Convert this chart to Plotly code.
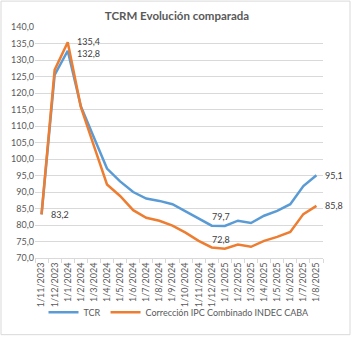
import plotly.graph_objects as go

# Monthly categories (first day of each month)
months = ["1/11/2023", "1/12/2023", "1/1/2024", "1/2/2024", "1/3/2024", "1/4/2024",
          "1/5/2024", "1/6/2024", "1/7/2024", "1/8/2024", "1/9/2024", "1/10/2024",
          "1/11/2024", "1/12/2024", "1/1/2025", "1/2/2025", "1/3/2025", "1/4/2025",
          "1/5/2025", "1/6/2025", "1/7/2025", "1/8/2025"]

tcr = [83.2, 125.5, 132.8, 116.0, 106.5, 97.1, 93.2, 90.0, 88.0, 87.3, 86.3, 84.2,
       82.0, 79.8, 79.7, 81.3, 80.6, 82.8, 84.3, 86.3, 91.8, 95.1]
ipc = [83.2, 127.0, 135.4, 115.8, 104.0, 92.3, 88.8, 84.5, 82.2, 81.3, 79.8, 77.7,
       75.2, 73.2, 72.8, 74.1, 73.4, 75.2, 76.4, 77.9, 83.3, 85.8]

series_names = ["TCR", "Corrección IPC Combinado INDEC CABA"]
blue = "#5B9BD5"
orange = "#ED7D31"
grey_text = "#595959"
FONT = "Lato"

fig = go.Figure()
fig.add_trace(go.Scatter(x=months, y=tcr, mode="lines", name=series_names[0],
                         line=dict(color=blue, width=2.5)))
fig.add_trace(go.Scatter(x=months, y=ipc, mode="lines", name=series_names[1],
                         line=dict(color=orange, width=2.5)))


def fmt(v):
    return f"{v:.1f}".replace(".", ",")


def label(i, series, pos):
    v = series[i]
    if pos == "right":
        return dict(x=months[i], y=v, text=fmt(v), showarrow=False,
                    xanchor="left", yanchor="middle", xshift=7)
    return dict(x=months[i], y=v, text=fmt(v), showarrow=False,
                xanchor="center", yanchor="bottom", yshift=2, xshift=-4)


last = len(months) - 1
peak = ipc.index(max(ipc))
low_t = tcr.index(min(tcr))
low_i = ipc.index(min(ipc))
anns = [
    label(0, ipc, "right"),
    {**label(peak, ipc, "right"), "yshift": 1},
    {**label(peak, tcr, "right"), "yshift": -3},
    label(low_t, tcr, "top"),
    label(low_i, ipc, "top"),
    label(last, tcr, "right"),
    label(last, ipc, "right"),
]
for a in anns:
    a["font"] = dict(family=FONT, size=9, color="#404040")
    fig.add_annotation(**a)

fig.update_layout(
    width=354, height=338,
    margin=dict(l=35, r=31, t=27, b=79),
    paper_bgcolor="white", plot_bgcolor="white",
    separators=",.",
    font=dict(family=FONT, size=9, color=grey_text),
    title=dict(text="<b>TCRM Evolución comparada</b>", x=0.5, xanchor="center",
               y=1 - 16 / 338, yanchor="middle",
               font=dict(family=FONT, size=11.5, color=grey_text)),
    showlegend=True,
    legend=dict(orientation="h", x=0.5, xanchor="center", y=-0.23, yanchor="middle",
                font=dict(family=FONT, size=9, color=grey_text),
                itemwidth=30, bgcolor="rgba(0,0,0,0)"),
    shapes=[dict(type="rect", xref="paper", yref="paper",
                 x0=-34 / 288, x1=(350 - 35) / 288,
                 y0=-(336 - 259) / 232, y1=1 + 26 / 232,
                 line=dict(color="#D9D9D9", width=1), layer="below")],
)

fig.update_xaxes(type="category", range=[-0.5, len(months) - 0.5], tickangle=-90,
                 showgrid=False, showline=True, linecolor="#D9D9D9", linewidth=1,
                 ticks="outside", tickson="boundaries", ticklen=4, tickcolor="#D9D9D9",
                 tickfont=dict(family=FONT, size=9, color=grey_text))
fig.update_yaxes(range=[70, 140], dtick=5, tickformat=".1f", showgrid=True,
                 gridcolor="#D9D9D9", gridwidth=1, zeroline=False, showline=False,
                 ticks="", tickfont=dict(family=FONT, size=9, color=grey_text))

fig.write_html("out.html")
